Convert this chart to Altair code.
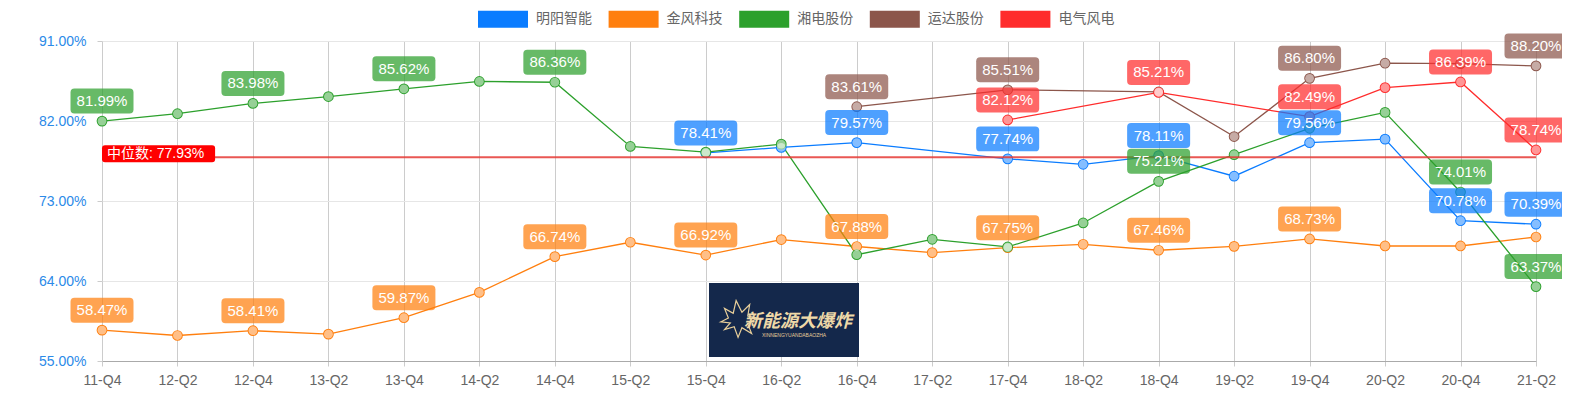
import altair as alt
import pandas as pd

QUARTERS = ["11-Q4", "12-Q2", "12-Q4", "13-Q2", "13-Q4", "14-Q2", "14-Q4", "15-Q2", "15-Q4", "16-Q2",
            "16-Q4", "17-Q2", "17-Q4", "18-Q2", "18-Q4", "19-Q2", "19-Q4", "20-Q2", "20-Q4", "21-Q2"]

SERIES = ["明阳智能", "金风科技", "湘电股份", "运达股份", "电气风电"]
COLORS = ["#0a7cff", "#ff7f0e", "#2ca02c", "#8c564b", "#ff2c2c"]

MINGYANG = [None] * 8 + [78.41, 79.03, 79.57, None, 77.74, 77.13, 78.11, 75.79, 79.56, 79.96, 70.78, 70.39]
JINFENG = [58.47, 57.87, 58.41, 58.02, 59.87, 62.72, 66.74, 68.36, 66.92, 68.66,
           67.88, 67.19, 67.75, 68.13, 67.46, 67.90, 68.73, 67.94, 67.94, 68.95]
XIANGDIAN = [81.99, 82.82, 83.98, 84.75, 85.62, 86.45, 86.36, 79.14, 78.50, 79.40,
             66.96, 68.69, 67.83, 70.53, 75.21, 78.21, 81.18, 82.97, 74.01, 63.37]
YUNDA = [None] * 10 + [83.61, None, 85.51, None, 85.27, 80.25, 86.80, 88.50, 88.45, 88.20]
DIANQI = [None] * 12 + [82.12, None, 85.21, None, 82.49, 85.75, 86.39, 78.74]

# indices of points whose value label is visible
LABELS_MINGYANG = [8, 10, 12, 14, 16, 18, 19]
LABELS_JINFENG = [0, 2, 4, 6, 8, 10, 12, 14, 16]
LABELS_XIANGDIAN = [0, 2, 4, 6, 14, 18, 19]
LABELS_YUNDA = [10, 12, 16, 19]
LABELS_DIANQI = [12, 14, 16, 18, 19]

MEDIAN = 77.93
MEDIAN_LABEL = "中位数: 77.93%"

VALUES = [MINGYANG, JINFENG, XIANGDIAN, YUNDA, DIANQI]
LABEL_IDX = [LABELS_MINGYANG, LABELS_JINFENG, LABELS_XIANGDIAN, LABELS_YUNDA, LABELS_DIANQI]

rows = []
for s, c, vals, lab in zip(SERIES, COLORS, VALUES, LABEL_IDX):
    for i, (q, v) in enumerate(zip(QUARTERS, vals)):
        if v is None:
            continue
        rows.append({"series": s, "colour": c, "quarter": q, "idx": i, "value": v,
                     "show": i in lab, "text": f"{v:.2f}%"})
df = pd.DataFrame(rows)
df_lab = df[df["show"]]

W, H = 1434, 320

x_enc = alt.X("quarter:N", sort=QUARTERS,
              scale=alt.Scale(type="point", padding=0, domain=QUARTERS),
              axis=alt.Axis(title=None, labelFont="Liberation Sans", labelFontSize=14,
                            labelColor="#666666", labelPadding=7, tickSize=5, tickColor="#cccccc",
                            domainColor="#aaaaaa", grid=True, gridColor="#cccccc", labelAngle=0))
y_enc = alt.Y("value:Q", scale=alt.Scale(domain=[55, 91], nice=False, zero=False),
              axis=alt.Axis(title=None, values=[55, 64, 73, 82, 91],
                            labelExpr="format(datum.value, '.2f') + '%'",
                            labelFont="Liberation Sans", labelFontSize=14, labelColor="#2b8ae8",
                            tickSize=5, tickColor="#cccccc", domain=False,
                            grid=True, gridColor="#e6e6e6", labelPadding=11))

base = alt.Chart(df)

lines = base.mark_line(strokeWidth=1.3).encode(
    x=x_enc, y=y_enc,
    stroke=alt.Stroke("colour:N", scale=None),
    order="idx:Q",
    detail="series:N",
)

LEG_SHAPE = "M-1,-0.34 L1,-0.34 L1,0.34 L-1,0.34 Z"
pts_outer = base.mark_point(filled=True, size=115, opacity=1).encode(
    x=x_enc, y=y_enc,
    color=alt.Color("series:N", scale=alt.Scale(domain=SERIES, range=COLORS),
                    legend=alt.Legend(title=None, orient="none", legendX=376, legendY=-47,
                                      direction="horizontal", symbolType=LEG_SHAPE,
                                      symbolSize=2500, symbolStrokeWidth=0, symbolOpacity=1,
                                      labelFont="Noto Sans CJK SC", labelFontSize=14,
                                      labelColor="#666666", labelOffset=8, columnPadding=16.6)),
)
pts_inner = base.mark_point(filled=True, size=78, color="white", opacity=0.5).encode(
    x=x_enc, y=y_enc,
)

median_df = pd.DataFrame({"value": [MEDIAN], "quarter": [QUARTERS[0]], "text": [MEDIAN_LABEL]})
median_rule = alt.Chart(median_df).mark_rule(color="#e53935", strokeWidth=2, opacity=0.85).encode(
    y=alt.Y("value:Q"), x=alt.datum(QUARTERS[0]), x2=alt.datum(QUARTERS[-1]),
)

BOX = ("M-0.917,-1.083 L0.917,-1.083 Q1.05,-1.083 1.05,-0.95 L1.05,-0.383 Q1.05,-0.25 0.917,-0.25 "
       "L-0.917,-0.25 Q-1.05,-0.25 -1.05,-0.383 L-1.05,-0.95 Q-1.05,-1.083 -0.917,-1.083 Z")
lab_box = alt.Chart(df_lab).mark_point(shape=BOX, filled=True, size=3600, fillOpacity=0.72,
                                       strokeWidth=0).encode(
    x=x_enc, y=y_enc,
    fill=alt.Fill("colour:N", scale=None),
)
lab_text = alt.Chart(df_lab).mark_text(color="white", font="Liberation Sans", fontSize=15,
                                       dy=-20, baseline="middle").encode(
    x=x_enc, y=y_enc, text="text:N",
)

MBOX = ("M0.1,-0.4 L3.67,-0.4 Q3.77,-0.4 3.77,-0.3 L3.77,0.067 Q3.77,0.167 3.67,0.167 "
        "L0.1,0.167 Q0,0.167 0,0.067 L0,-0.3 Q0,-0.4 0.1,-0.4 Z")
median_box = alt.Chart(median_df).mark_point(shape=MBOX, filled=True, size=3600, color="#ff0000",
                                             opacity=1, strokeWidth=0).encode(
    x=x_enc, y=y_enc,
)
median_text = alt.Chart(median_df).mark_text(color="white", font="Liberation Sans, Noto Sans CJK SC",
                                             fontSize=14, align="left", baseline="middle",
                                             dx=5, dy=-3.5).encode(
    x=x_enc, y=y_enc, text="text:N",
)

one = pd.DataFrame({"a": [0]})
logo_bg = alt.Chart(one).mark_rect(color="#14284b").encode(
    x=alt.value(607), x2=alt.value(757), y=alt.value(242), y2=alt.value(316))
STAR = ("M-1,0.1 L-0.6,-0.1 L-0.8,-0.6 L-0.35,-0.35 L-0.2,-1 L0.1,-0.4 L0.5,-0.8 L0.4,-0.2 "
        "L0.9,-0.1 L0.4,0.2 L0.6,0.7 L0.1,0.4 L-0.1,0.9 L-0.3,0.35 L-0.8,0.5 L-0.5,0.15 Z")
logo_star = alt.Chart(one).mark_point(shape=STAR, filled=False, size=1500, color="#e8cf9a",
                                      strokeWidth=1.2, opacity=1).encode(
    x=alt.value(638), y=alt.value(279))
logo_text = alt.Chart(one).mark_text(text="新能源大爆炸", font="Noto Sans CJK SC", fontSize=18,
                                     fontWeight="bold", fontStyle="italic", color="#efd9a8",
                                     align="left", baseline="middle").encode(
    x=alt.value(642), y=alt.value(281))
logo_sub = alt.Chart(one).mark_text(text="XINNENGYUANDABAOZHA", font="Liberation Sans", fontSize=5,
                                    color="#e8cf9a", align="left", baseline="middle").encode(
    x=alt.value(660), y=alt.value(294))

chart = alt.layer(
    lines, pts_outer, pts_inner, median_rule, logo_bg, logo_star, logo_text, logo_sub,
    lab_box, lab_text, median_box, median_text,
).properties(
    width=W, height=H,
    autosize=alt.AutoSizeParams(type="none"),
    padding={"left": 94, "top": 33, "right": 26, "bottom": 38},
).configure_view(stroke=None).configure(background="white")

chart.save("out.html", embed_options={"renderer": "svg", "actions": False})
